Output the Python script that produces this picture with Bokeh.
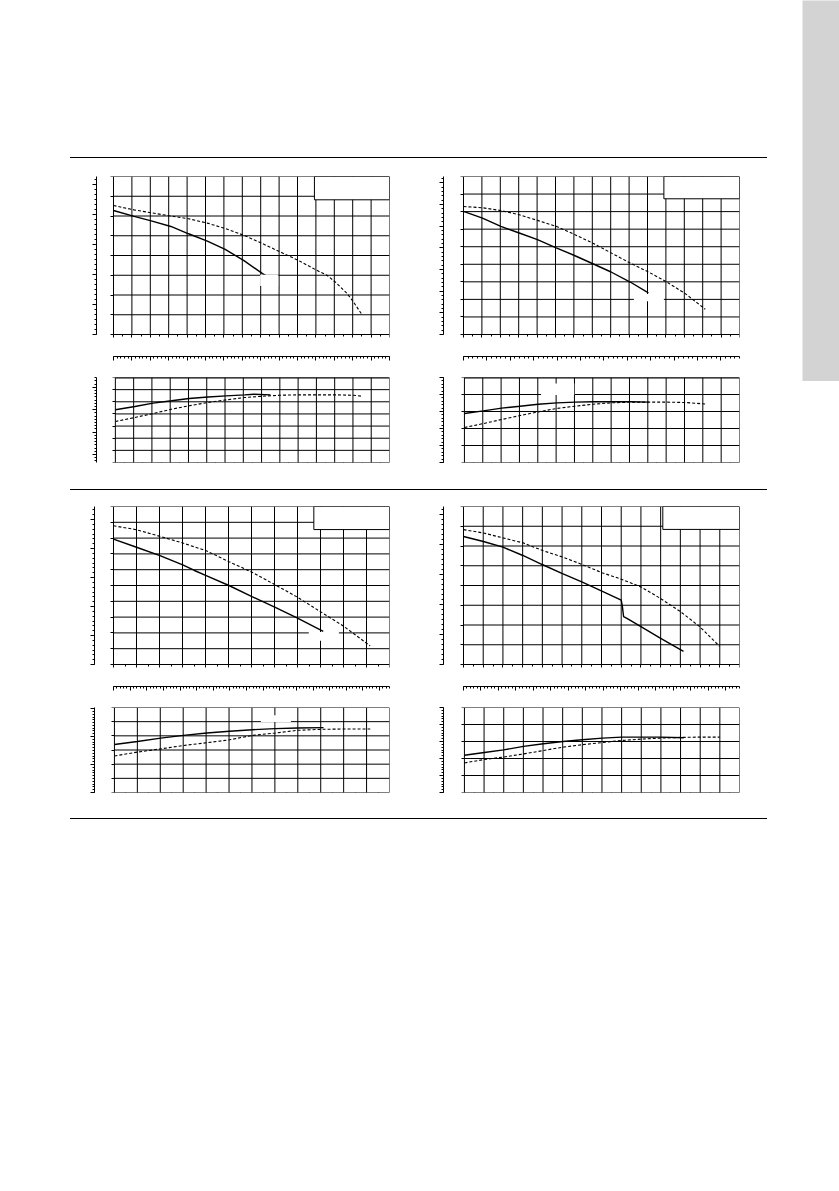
from bokeh.plotting import figure
from bokeh.layouts import row, column
from bokeh.models import Spacer, Range1d, LinearAxis, FixedTicker, BoxAnnotation, Div
from bokeh.embed import file_html
from bokeh.resources import INLINE

# ---------------- data (grid units) ----------------
# Panel 1 (top left)
p1_cols, p1_rows, p1_low_rows = 15, 8, 7
p1_h_q = [0, 1.12, 2.1, 3.12, 4.08, 5.1, 6.07, 7.07, 8.1, 8.42]
p1_h_solid = [6.28, 5.98, 5.74, 5.47, 5.10, 4.73, 4.31, 3.75, 3.08, 2.91]
p1_h_qd = [0, 1.12, 2.12, 3.12, 4.08, 5.1, 6.12, 7.1, 8.1, 9.06, 10.05, 11.05, 11.6, 12.05, 12.7, 13.04, 13.5]
p1_h_dash = [6.53, 6.31, 6.15, 6.0, 5.86, 5.64, 5.35, 5.02, 4.6, 4.18, 3.75, 3.25, 3.0, 2.66, 2.07, 1.65, 1.01]
p1_e_q = [0, 1.07, 2.07, 3.07, 4.04, 5.07, 6.07, 7.07, 7.58, 8.49]
p1_e_solid = [4.34, 4.61, 4.89, 5.08, 5.27, 5.40, 5.49, 5.57, 5.62, 5.57]
p1_e_qd = [0, 1.07, 2.07, 3.07, 4.04, 5.07, 6.07, 7.07, 8.07, 9.0, 10.04, 11.04, 12.04, 13.04, 13.49]
p1_e_dash = [3.38, 3.71, 4.03, 4.39, 4.67, 4.94, 5.16, 5.35, 5.46, 5.54, 5.57, 5.57, 5.57, 5.54, 5.46]

# Panel 2 (top right)
p2_cols, p2_rows, p2_low_rows = 15, 9, 5
p2_h_q = [0, 1.03, 2.03, 3.03, 4.02, 5.04, 6.03, 7.03, 8.02, 9.06, 10.05]
p2_h_solid = [7.01, 6.63, 6.16, 5.78, 5.40, 4.94, 4.5, 4.03, 3.56, 2.99, 2.37]
p2_h_qd = [0, 1.03, 2.03, 3.03, 4.02, 5.04, 6.03, 7.03, 8.02, 9.06, 10.05, 11.05, 12.05, 13.14]
p2_h_dash = [7.29, 7.22, 7.06, 6.82, 6.5, 6.16, 5.7, 5.2, 4.65, 4.07, 3.56, 2.99, 2.33, 1.44]
p2_e_q = [0, 1.03, 2.03, 3.03, 4.02, 5.04, 6.03, 7.03, 8.02, 9.06, 10.05]
p2_e_solid = [2.88, 3.04, 3.2, 3.31, 3.43, 3.51, 3.55, 3.57, 3.57, 3.57, 3.55]
p2_e_qd = [0, 1.03, 2.03, 3.03, 4.02, 5.04, 6.03, 7.03, 8.02, 9.06, 10.05, 11.05, 12.05, 13.23]
p2_e_dash = [2.06, 2.29, 2.53, 2.76, 2.98, 3.18, 3.31, 3.43, 3.51, 3.55, 3.55, 3.55, 3.53, 3.43]

# Panel 3 (bottom left)
p3_cols, p3_rows, p3_low_rows = 12, 10, 6
p3_h_q = [0, 1, 2.02, 3.01, 3.52, 4.03, 5.02, 6.02, 7.01, 8.0, 9.12]
p3_h_solid = [7.94, 7.42, 6.89, 6.3, 5.95, 5.63, 5.0, 4.3, 3.63, 2.94, 2.1]
p3_h_qd = [0, 1, 2.02, 3.01, 4.03, 5.02, 6.02, 7.01, 8.0, 9.02, 9.99, 11.16]
p3_h_dash = [8.78, 8.53, 8.11, 7.69, 7.2, 6.51, 5.84, 5.06, 4.26, 3.32, 2.44, 1.18]
p3_e_q = [0, 1, 2.02, 3.01, 4.03, 5.02, 6.02, 7.01, 8.0, 9.12]
p3_e_solid = [3.39, 3.6, 3.84, 4.03, 4.2, 4.32, 4.43, 4.51, 4.55, 4.58]
p3_e_qd = [0, 1, 2.02, 3.01, 4.03, 5.02, 6.02, 7.01, 8.0, 9.02, 9.99, 11.16]
p3_e_dash = [2.58, 2.85, 3.08, 3.32, 3.51, 3.72, 4.03, 4.2, 4.39, 4.46, 4.48, 4.48]

# Panel 4 (bottom right)
p4_cols, p4_rows, p4_low_rows = 14, 8, 5
p4_h_q = [0, 1.01, 2.0, 3.01, 4.02, 5.02, 6.0, 7.02, 8.0, 8.05, 8.12, 8.29, 9.0, 9.98, 11.16]
p4_h_solid = [6.48, 6.23, 5.94, 5.52, 5.05, 4.6, 4.18, 3.72, 3.26, 3.01, 2.43, 2.34, 1.92, 1.34, 0.67]
p4_h_qd = [0, 1.01, 2.0, 3.01, 4.02, 5.02, 6.0, 7.02, 8.0, 9.0, 9.98, 11.0, 11.98, 12.99]
p4_h_dash = [6.83, 6.66, 6.41, 6.16, 5.77, 5.44, 5.07, 4.65, 4.32, 3.93, 3.35, 2.68, 1.92, 0.92]
p4_e_q = [0, 1.01, 2.0, 3.01, 4.02, 5.02, 6.0, 7.02, 8.0, 9.0, 9.98, 11.16]
p4_e_solid = [2.19, 2.35, 2.51, 2.71, 2.87, 3.0, 3.1, 3.2, 3.26, 3.26, 3.26, 3.22]
p4_e_qd = [0, 1.01, 2.0, 3.01, 4.02, 5.02, 6.0, 7.02, 8.0, 9.0, 9.98, 11.0, 11.98, 12.99]
p4_e_dash = [1.74, 1.94, 2.09, 2.27, 2.47, 2.67, 2.81, 2.94, 3.06, 3.14, 3.2, 3.24, 3.26, 3.26]

INK = "black"
BOX_W = 276          # grid box width in px
STRIP_GAP = 22       # px between grid box bottom and the flow scale strip


def style_axis(ax, out=3, minor_out=2, line=False):
    ax.axis_line_color = INK if line else None
    ax.axis_line_width = 1
    ax.major_tick_in = 0
    ax.major_tick_out = out
    ax.minor_tick_in = 0
    ax.minor_tick_out = minor_out
    ax.major_tick_line_color = INK
    ax.minor_tick_line_color = INK
    ax.major_label_text_color = None
    ax.major_label_text_font_size = "1px"
    ax.major_label_standoff = 0


def chart(ncols, nrows, fig_x, fig_w, far_x, box_l, box_r, top_b, box_h, bottom_b,
          solid, dashed, far, strip=None, legend_box=None, gaps=(), thick_top=False):
    gap_px = box_l - far_x
    col_px = (box_r - box_l) / ncols
    row_px = box_h / nrows
    x0 = -gap_px / col_px
    strip_gap = STRIP_GAP if strip is not None else 0
    y0 = -strip_gap / row_px
    height = top_b + box_h + strip_gap + bottom_b
    p = figure(width=fig_w, height=height,
               x_range=Range1d(x0, ncols), y_range=Range1d(y0, nrows),
               output_backend="svg", toolbar_location=None,
               x_axis_location=None, y_axis_location=None,
               min_border_left=far_x - fig_x, min_border_right=fig_x + fig_w - box_r,
               min_border_top=top_b, min_border_bottom=bottom_b)
    p.background_fill_color = "white"
    p.border_fill_color = "white"
    p.outline_line_color = None
    p.grid.visible = False

    # secondary unit scale at the far left (frame edge)
    lo, hi, step = far
    aux_start = lo - (hi - lo) * strip_gap / box_h
    p.extra_y_ranges = {"aux": Range1d(aux_start, hi)}
    majors = list(range(0, int(hi) + 1, step))
    minors = list(range(int(round(lo + 0.49)), int(hi) + 1))
    fa = LinearAxis(y_range_name="aux", bounds=(lo, hi),
                    ticker=FixedTicker(ticks=majors, minor_ticks=minors))
    style_axis(fa, out=4, minor_out=2, line=True)
    p.add_layout(fa, "left")

    # flow scale strip under the chart (frame bottom edge)
    if strip is not None:
        n, sstep = strip
        p.extra_x_ranges = {"aux2": Range1d(-gap_px * n / BOX_W, n)}
        sa = LinearAxis(x_range_name="aux2", bounds=(0, n),
                        ticker=FixedTicker(ticks=list(range(0, int(n) + 1, sstep)),
                                           minor_ticks=list(range(0, int(n) + 1))))
        style_axis(sa, out=4, minor_out=2, line=True)
        p.add_layout(sa, "below")

    # ticks on the grid box itself
    xt = FixedTicker(ticks=list(range(ncols + 1)),
                     minor_ticks=[i + 0.5 for i in range(ncols)])
    yt = FixedTicker(ticks=list(range(nrows + 1)), minor_ticks=[])
    bx = LinearAxis(fixed_location=0, ticker=xt)
    style_axis(bx, out=3, minor_out=2)
    p.add_layout(bx, "below")
    by = LinearAxis(fixed_location=0, ticker=yt)
    style_axis(by, out=3, minor_out=0)
    p.add_layout(by, "left")

    # grid box
    cols = list(range(ncols + 1))
    rows_ = list(range(nrows + 1))
    p.segment(x0=cols, y0=[0] * len(cols), x1=cols, y1=[nrows] * len(cols),
              line_color=INK, line_width=1)
    p.segment(x0=[0] * len(rows_), y0=rows_, x1=[ncols] * len(rows_), y1=rows_,
              line_color=INK, line_width=1)
    if thick_top:
        p.segment(x0=[0], y0=[nrows], x1=[ncols], y1=[nrows], line_color=INK, line_width=2)

    for (l, r, b, t) in gaps:
        p.add_layout(BoxAnnotation(left=l, right=r, bottom=b, top=t,
                                   fill_color="white", fill_alpha=1,
                                   line_color=None, level="glyph"))

    p.line(solid[0], solid[1], line_color=INK, line_width=1.4)
    p.line(dashed[0], dashed[1], line_color=INK, line_width=1.1, line_dash="3 2")

    if legend_box is not None:
        l, b = legend_box
        p.add_layout(BoxAnnotation(left=l, right=ncols, bottom=b, top=nrows,
                                   fill_color="white", fill_alpha=1,
                                   line_color=INK, line_width=1, line_alpha=1))
    return p


L_X, L_W = 65, 348
R_X, R_W = 413, 336
LBOX = (113, 389)
RBOX = (463, 739)

p1u = chart(p1_cols, p1_rows, L_X, L_W, 96, *LBOX, 18, 158, 15,
            (p1_h_q, p1_h_solid), (p1_h_qd, p1_h_dash),
            far=(0, 31.6, 6), strip=(75, 5),
            legend_box=(10.92, 6.82), gaps=[(7.97, 8.95, 2.45, 3.02)])
p1l = chart(p1_cols, p1_low_rows, L_X, L_W, 94, *LBOX, 6, 85, 27,
            (p1_e_q, p1_e_solid), (p1_e_qd, p1_e_dash),
            far=(-2.5, 24.06, 7), thick_top=True)

p2u = chart(p2_cols, p2_rows, R_X, R_W, 443, *RBOX, 18, 158, 15,
            (p2_h_q, p2_h_solid), (p2_h_qd, p2_h_dash),
            far=(0, 36.5, 5), strip=(59, 5),
            legend_box=(10.89, 7.73), gaps=[(9.26, 10.89, 1.9, 2.3)])
p2l = chart(p2_cols, p2_low_rows, R_X, R_W, 442, *RBOX, 6, 85, 27,
            (p2_e_q, p2_e_solid), (p2_e_qd, p2_e_dash),
            far=(0, 25, 5), thick_top=True,
            gaps=[(4.18, 5.99, 3.97, 4.65)])

p3u = chart(p3_cols, p3_rows, L_X, L_W, 94, *LBOX, 16, 158, 15,
            (p3_h_q, p3_h_solid), (p3_h_qd, p3_h_dash),
            far=(0, 32.7, 6), strip=(83, 5),
            legend_box=(8.71, 8.54), gaps=[(8.49, 9.8, 1.5, 2.05)])
p3l = chart(p3_cols, p3_low_rows, L_X, L_W, 93, *LBOX, 6, 85, 26,
            (p3_e_q, p3_e_solid), (p3_e_qd, p3_e_dash),
            far=(0, 30.4, 10), gaps=[(6.39, 7.7, 4.97, 5.45)])

p4u = chart(p4_cols, p4_rows, R_X, R_W, 443, *RBOX, 16, 158, 15,
            (p4_h_q, p4_h_solid), (p4_h_qd, p4_h_dash),
            far=(0, 31.6, 6), strip=(79, 5),
            legend_box=(10.11, 6.84))
p4l = chart(p4_cols, p4_low_rows, R_X, R_W, 442, *RBOX, 6, 85, 26,
            (p4_e_q, p4_e_solid), (p4_e_qd, p4_e_dash),
            far=(0, 30, 6))


def plain(width, height, color):
    f = figure(width=width, height=height, x_range=Range1d(0, 1), y_range=Range1d(0, 1),
               output_backend="svg", toolbar_location=None, min_border=0,
               x_axis_location=None, y_axis_location=None)
    f.grid.visible = False
    f.outline_line_color = None
    f.background_fill_color = color
    f.border_fill_color = color
    return f


def hrule():
    bar = Div(text="", width=697, height=1, margin=(0, 0, 0, 0),
              styles={"background-color": "black", "overflow": "hidden"})
    return row(Spacer(width=70, height=1), bar)


panels1 = row(Spacer(width=L_X, height=331), column(p1u, p1l), column(p2u, p2l))
panels2 = row(Spacer(width=L_X, height=328), column(p3u, p3l), column(p4u, p4l))
main = column(Spacer(width=767, height=157), hrule(), panels1, hrule(), panels2, hrule())
tab = column(plain(37, 381, "#d3d3d3"), Spacer(width=37, height=438))
page = row(main, Spacer(width=35, height=819), tab)

open("out.html", "w").write(file_html(page, INLINE))
